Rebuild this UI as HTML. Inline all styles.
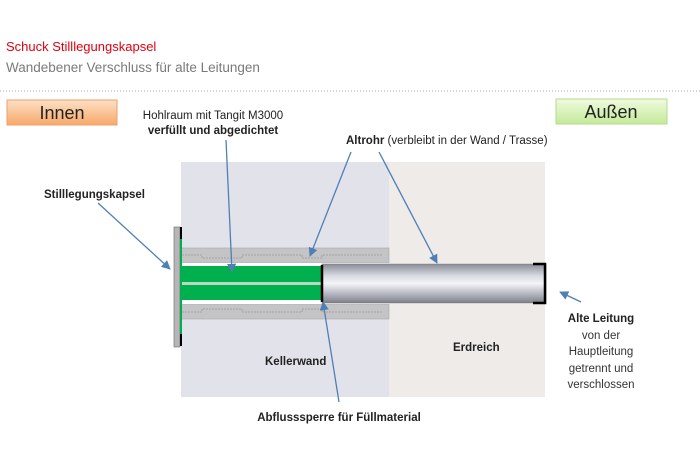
<!DOCTYPE html>
<html><head><meta charset="utf-8"><style>
body{margin:0;background:#fff;width:700px;height:465px;overflow:hidden}
svg{display:block}
text{font-family:"Liberation Sans",sans-serif}
</style></head><body>
<svg width="700" height="465" viewBox="0 0 700 465" xmlns="http://www.w3.org/2000/svg">
<defs>
<linearGradient id="pipe" x1="0" y1="0" x2="0" y2="1">
<stop offset="0" stop-color="#8a8c96"/><stop offset="0.3" stop-color="#d8dae2"/><stop offset="0.5" stop-color="#f4f5f8"/><stop offset="0.75" stop-color="#b8bac4"/><stop offset="1" stop-color="#7c7e88"/></linearGradient>
<linearGradient id="or" x1="0" y1="0" x2="0" y2="1"><stop offset="0" stop-color="#fde0c6"/><stop offset="1" stop-color="#f7a868"/></linearGradient>
<linearGradient id="gr" x1="0" y1="0" x2="0" y2="1"><stop offset="0" stop-color="#f0fadf"/><stop offset="1" stop-color="#c4ea98"/></linearGradient>
<marker id="ar" viewBox="0 0 10 10" refX="9" refY="5" markerWidth="7" markerHeight="7" orient="auto"><path d="M0,0 L10,5 L0,10 z" fill="#4f7fb5"/></marker>
</defs>
<text x="6" y="51" font-size="13" fill="#e3000f">Schuck Stilllegungskapsel</text>
<text x="6" y="72" font-size="13.5" fill="#7a7a7a">Wandebener Verschluss für alte Leitungen</text>
<line x1="0" y1="91" x2="700" y2="91" stroke="#aaa" stroke-dasharray="1,2"/>
<rect x="7" y="100" width="110" height="25" fill="url(#or)" stroke="#e8a070"/>
<text x="62" y="119" font-size="18" text-anchor="middle" fill="#222">Innen</text>
<rect x="556" y="99" width="111" height="25" fill="url(#gr)" stroke="#b6d890"/>
<text x="611" y="118" font-size="18" text-anchor="middle" fill="#222">Außen</text>

<rect x="181" y="162" width="208" height="235" fill="#e2e2ea"/>
<rect x="389" y="162" width="156" height="235" fill="#eeebe8"/>
<rect x="180" y="248" width="209" height="15" fill="#c4c4c6" stroke="#a8a8a8" stroke-width="0.6"/>
<rect x="180" y="304" width="209" height="15" fill="#c4c4c6" stroke="#a8a8a8" stroke-width="0.6"/>
<path d="M182,255 h20 v3 h40 v-3 h60 v3 h20 v-3 h60" stroke="#999" stroke-width="0.8" fill="none" stroke-dasharray="2,1"/>
<path d="M182,312 h20 v-3 h40 v3 h60 v-3 h20 v3 h60" stroke="#999" stroke-width="0.8" fill="none" stroke-dasharray="2,1"/>
<rect x="180" y="263" width="366" height="41" fill="#fff"/>
<rect x="180" y="266" width="142" height="34" fill="#00b04f"/>
<rect x="180" y="282" width="142" height="3" fill="#b8d8c0"/>
<rect x="322" y="264" width="224" height="39" fill="url(#pipe)" stroke="#777" stroke-width="0.6"/>
<line x1="322" y1="265" x2="322" y2="302" stroke="#000" stroke-width="2.5"/>
<path d="M533,264 H545 V303 H533" fill="none" stroke="#000" stroke-width="2.5"/>
<rect x="174" y="227" width="6" height="120" fill="#b6b6b8" stroke="#666" stroke-width="0.6"/>
<rect x="180" y="230" width="2" height="114" fill="#00b04f"/>
<rect x="180" y="227" width="2" height="12" fill="#000"/>
<rect x="180" y="334" width="2" height="12" fill="#000"/>

<g stroke="#4f7fb5" stroke-width="1.3" marker-end="url(#ar)" fill="none">
<line x1="98" y1="203" x2="170" y2="269"/>
<line x1="226" y1="140" x2="232" y2="272"/>
<line x1="351" y1="152" x2="310" y2="256"/>
<line x1="379" y1="152" x2="437" y2="263"/>
<line x1="581" y1="302" x2="560" y2="292"/>
<line x1="339" y1="402" x2="323" y2="302"/>
</g>

<text x="213" y="119" font-size="11.5" text-anchor="middle" fill="#222">Hohlraum mit Tangit M3000</text>
<text x="213" y="134" font-size="11.5" font-weight="bold" text-anchor="middle" fill="#222">verfüllt und abgedichtet</text>
<text x="346" y="144" font-size="11.5" fill="#222"><tspan font-weight="bold">Altrohr</tspan> (verbleibt in der Wand / Trasse)</text>
<text x="44" y="198" font-size="11.5" font-weight="bold" fill="#222">Stilllegungskapsel</text>
<text x="265" y="365" font-size="11.5" font-weight="bold" fill="#222">Kellerwand</text>
<text x="453" y="351" font-size="11.5" font-weight="bold" fill="#222">Erdreich</text>
<text x="339" y="421" font-size="11.5" font-weight="bold" text-anchor="middle" fill="#222">Abflusssperre für Füllmaterial</text>
<g font-size="11.5" text-anchor="middle" fill="#333">
<text x="601" y="322" font-weight="bold" fill="#222">Alte Leitung</text>
<text x="601" y="339">von der</text>
<text x="601" y="355">Hauptleitung</text>
<text x="601" y="372">getrennt und</text>
<text x="601" y="388">verschlossen</text>
</g>
</svg>
</body></html>
